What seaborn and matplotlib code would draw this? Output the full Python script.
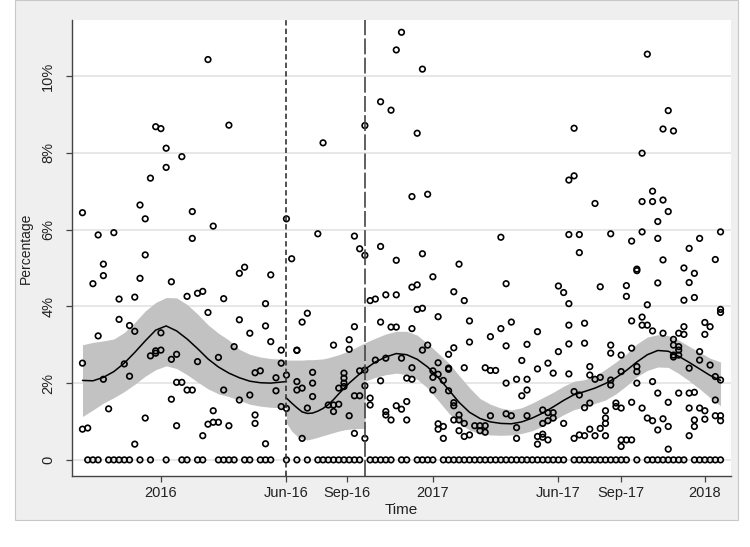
import matplotlib
matplotlib.use("Agg")
import matplotlib.pyplot as plt
import seaborn as sns
import pandas as pd
from matplotlib.patches import Rectangle

# ---------------- data (x in weeks since 2016w1, y in percent) ----------------
obs_weeks = [-15, -14, -13, -12, -11, -10, -9, -8, -7, -6, -5, -4, -3, -2, -1, 0,
             1, 2, 3, 4, 5, 6, 7, 8, 9, 10, 11, 12, 13, 14, 15, 16, 17, 18, 19, 20,
             21, 22, 23, 24, 25, 26, 27, 28, 29, 30, 31, 32, 33, 34, 35, 36, 37, 38,
             39, 40, 41, 42, 43, 44, 45, 46, 47, 48, 49, 50, 51, 52, 53, 54, 55, 56,
             57, 58, 59, 60, 61, 62, 63, 64, 65, 66, 67, 68, 69, 70, 72, 73, 74, 75,
             76, 77, 78, 79, 80, 81, 82, 83, 84, 85, 86, 87, 88, 89, 90, 91, 92, 93,
             94, 95, 96, 97, 98, 99, 100, 101, 102, 103, 104, 105, 106, 107]
obs_pct = [
    [6.44, 2.52, 0.80], [0.83], [4.59], [5.86, 3.23], [5.10, 4.80, 2.10], [1.33],
    [5.92], [4.19, 3.66], [2.50], [3.50, 2.18], [4.24, 3.35, 0.41], [6.64, 4.73],
    [6.28, 5.34, 1.09], [7.34, 2.71], [8.68, 2.78, 2.84], [8.63, 3.31, 2.86],
    [8.12, 7.62], [4.64, 2.62, 1.58], [2.75, 2.02, 0.89], [7.90, 2.02], [4.26, 1.82],
    [6.47, 5.77, 1.82], [4.34, 2.56], [4.39, 0.63], [10.43, 3.84, 0.93],
    [6.09, 1.28, 0.98], [2.67, 0.98], [4.20, 1.82], [8.72, 0.89], [2.95],
    [4.86, 3.65, 1.56], [5.02], [3.30, 1.69], [2.27, 1.17, 0.95], [2.32],
    [4.07, 3.49, 0.42], [4.82, 3.08], [2.14, 1.80], [2.86, 2.52, 1.39],
    [6.28, 2.21, 1.34], [5.24], [2.86, 2.85, 2.04, 1.82], [3.59, 1.87, 0.56],
    [3.82, 1.35], [2.28, 2.00, 1.65], [5.89], [8.26], [1.43], [2.99, 1.43, 1.26],
    [1.87, 1.45], [2.26, 2.13, 2.00, 1.91], [3.13, 2.88, 1.15],
    [5.83, 3.47, 1.67, 0.69], [5.50, 2.32, 1.67], [8.71, 5.33, 2.34, 1.93, 0.56],
    [4.15, 1.61, 1.43], [4.19, 2.60], [9.33, 5.56, 3.59, 2.06],
    [4.30, 2.65, 1.26, 1.17], [9.11, 3.46, 1.04], [10.68, 5.20, 4.30, 3.46, 1.41],
    [11.14, 2.65, 1.32], [2.13, 1.52, 1.04], [6.86, 4.50, 3.42, 2.40, 2.10],
    [8.51, 4.56, 3.92], [10.18, 5.37, 3.95, 2.86], [6.92, 2.99],
    [4.77, 2.32, 2.15, 1.82], [3.73, 2.53, 2.23, 0.94, 0.80], [2.07, 0.87, 0.56],
    [2.75, 2.39, 2.36, 1.80], [4.38, 2.92, 1.49, 1.41, 1.04],
    [5.10, 1.17, 1.04, 0.76], [4.15, 2.40, 0.95, 0.61], [3.62, 3.07, 0.65], [0.89],
    [0.89, 0.76], [2.40, 0.89, 0.72], [3.21, 2.33, 1.15], [2.33], [5.80, 3.42],
    [4.59, 2.97, 2.00, 1.20], [3.59, 1.15], [2.10, 0.84, 0.56], [2.59, 1.67],
    [3.01, 2.10, 1.82, 1.15], [3.34, 2.37, 0.61, 0.41], [1.30, 0.95, 0.67, 0.59],
    [2.52, 1.23, 1.02, 0.52], [2.26, 1.23, 1.09], [4.53, 2.82], [4.36, 0.95],
    [7.29, 5.87, 4.07, 3.51, 3.02, 2.24], [8.64, 7.40, 1.78, 0.56],
    [5.87, 5.40, 1.69, 0.65], [3.56, 3.04, 1.36, 0.63], [2.43, 2.21, 1.48, 0.80],
    [6.68, 2.10, 0.63], [4.51, 2.15, 0.82], [1.28, 1.09, 0.95, 0.63],
    [5.89, 2.99, 2.78, 2.08, 1.95], [1.48, 1.39], [2.73, 2.30, 1.35, 0.52, 0.35],
    [4.54, 4.26, 0.52], [5.70, 3.62, 2.91, 1.50, 0.52], [4.97, 4.93, 2.43, 2.30, 2.00],
    [7.99, 6.73, 5.94, 3.72, 3.51, 1.35], [10.57, 4.04, 3.51, 1.09],
    [7.00, 6.73, 3.36, 2.04, 1.02], [6.21, 5.77, 4.61, 1.74, 0.78],
    [8.62, 6.77, 5.21, 3.30, 1.07], [9.10, 6.47, 1.50, 0.87, 0.28],
    [8.57, 3.14, 2.99, 2.73, 2.68], [3.30, 2.95, 2.86, 2.73, 1.74],
    [5.00, 4.16, 3.47, 3.27], [5.51, 4.62, 2.39, 1.74, 1.35, 0.63],
    [4.86, 4.23, 1.76, 1.04, 0.87], [5.77, 2.82, 2.60, 1.35], [3.58, 3.27, 1.28, 1.06],
    [3.47, 2.47], [5.22, 2.17, 1.56, 1.15], [5.94, 3.92, 3.84, 2.08, 1.15, 1.02],
]
zero_weeks = [-14, -13, -12, -10, -9, -8, -7, -6, -4, -2, 1, 4, 5, 7, 8, 11, 12, 13,
              14, 16, 17, 19, 20, 21, 24, 26, 28, 30, 31, 32, 33, 34, 35, 36, 37, 38,
              40, 41, 42, 43, 44, 46, 47, 49, 50, 51, 52, 54, 55, 56, 57, 58, 59, 60,
              61, 62, 63, 64, 65, 66, 67, 68, 69, 70, 71, 72, 73, 74, 75, 76, 77, 79,
              80, 81, 82, 83, 84, 85, 86, 87, 88, 89, 91, 93, 94, 95, 96, 97, 98, 99,
              100, 102, 103, 104, 105, 106, 107]

# local polynomial fits with confidence bands, three periods
fit1_week = [-15, -13, -11, -9, -7, -5, -3, -1, 1, 3, 5, 7, 9, 11, 13, 15, 17, 19, 21, 24]
fit1_mid = [2.07, 2.06, 2.15, 2.30, 2.52, 2.80, 3.10, 3.38, 3.49, 3.36, 3.15, 2.90,
            2.63, 2.42, 2.26, 2.14, 2.05, 2.01, 2.00, 2.04]
fit1_hi = [3.00, 3.06, 3.10, 3.15, 3.32, 3.58, 3.88, 4.10, 4.23, 4.22, 4.05, 3.80,
           3.52, 3.30, 3.12, 2.88, 2.75, 2.68, 2.64, 2.62]
fit1_lo = [1.13, 1.30, 1.48, 1.62, 1.78, 1.97, 2.18, 2.35, 2.45, 2.38, 2.22, 2.03,
           1.85, 1.72, 1.65, 1.55, 1.45, 1.40, 1.37, 1.35]

fit2_week = [24, 25, 26, 27, 28, 29, 30, 31, 32, 33, 34, 35, 36, 37, 38, 39]
fit2_mid = [1.61, 1.48, 1.36, 1.25, 1.21, 1.22, 1.27, 1.34, 1.44, 1.57, 1.72, 1.86,
            2.00, 2.12, 2.24, 2.36]
fit2_hi = [2.60, 2.60, 2.60, 2.60, 2.61, 2.61, 2.62, 2.63, 2.66, 2.70, 2.74, 2.79,
           2.85, 2.91, 2.98, 3.05]
fit2_lo = [0.96, 0.75, 0.62, 0.54, 0.52, 0.55, 0.59, 0.63, 0.67, 0.71, 0.75, 0.78,
           0.80, 0.81, 0.82, 0.82]

fit3_week = [39, 41, 43, 45, 47, 49, 51, 53, 55, 57, 59, 61, 63, 65, 67, 69, 71, 73,
             75, 77, 79, 81, 83, 85, 87, 89, 91, 93, 95, 97, 99, 101, 103, 105, 107]
fit3_mid = [2.36, 2.55, 2.68, 2.77, 2.74, 2.62, 2.42, 2.15, 1.83, 1.50, 1.24, 1.08,
            0.99, 0.95, 0.94, 0.99, 1.09, 1.22, 1.38, 1.55, 1.70, 1.78, 1.87, 1.99,
            2.14, 2.33, 2.55, 2.74, 2.85, 2.83, 2.70, 2.54, 2.37, 2.20, 2.07]
fit3_hi = [3.05, 3.17, 3.28, 3.35, 3.35, 3.25, 3.03, 2.78, 2.53, 2.20, 1.88, 1.60,
           1.45, 1.35, 1.30, 1.36, 1.48, 1.62, 1.76, 1.92, 2.05, 2.09, 2.18, 2.36,
           2.55, 2.76, 3.02, 3.20, 3.26, 3.24, 3.12, 2.96, 2.80, 2.65, 2.55]
fit3_lo = [2.05, 2.15, 2.22, 2.26, 2.22, 2.10, 1.87, 1.55, 1.22, 0.95, 0.78, 0.68,
           0.65, 0.64, 0.65, 0.69, 0.76, 0.88, 1.02, 1.18, 1.31, 1.38, 1.47, 1.56,
           1.72, 1.93, 2.17, 2.33, 2.42, 2.41, 2.25, 2.06, 1.85, 1.62, 1.41]

event_weeks = [24, 39]
tick_weeks = [0, 24, 35.5, 52, 76, 88, 104]
tick_labels = ["2016", "Jun-16", "Sep-16", "2017", "Jun-17", "Sep-17", "2018"]
ytick_vals = [0, 2, 4, 6, 8, 10]
ytick_labels = ["0", "2%", "4%", "6%", "8%", "10%"]

# ---------------- build table ----------------
rows_w, rows_p = [], []
for w, vals in zip(obs_weeks, obs_pct):
    for v in vals:
        rows_w.append(w)
        rows_p.append(v)
for w in zero_weeks:
    rows_w.append(w)
    rows_p.append(0.0)
df = pd.DataFrame({"week": rows_w, "pct": rows_p})

# ---------------- figure ----------------
sns.set_style("white")
plt.rcParams["font.family"] = ["Liberation Sans", "DejaVu Sans"]

W, H = 750, 547
fig = plt.figure(figsize=(W / 100, H / 100), dpi=100)
fig.patch.set_facecolor("white")
fig.patches.append(Rectangle((15 / W, 1 - 520 / H), (738 - 15) / W, 520 / H,
                             transform=fig.transFigure, facecolor="#efefef",
                             edgecolor="#c8c8c8", lw=0.8, zorder=-10))
ax = fig.add_axes([72 / W, 1 - 476 / H, (731 - 72) / W, (476 - 20) / H])
ax.set_facecolor("white")

for wk, lo, hi in [(fit1_week, fit1_lo, fit1_hi), (fit2_week, fit2_lo, fit2_hi),
                   (fit3_week, fit3_lo, fit3_hi)]:
    ax.fill_between(wk, lo, hi, color="#c2c2c2", lw=0, zorder=1)

sns.scatterplot(data=df, x="week", y="pct", ax=ax, marker="o", s=16,
                linewidth=1.2, legend=False, zorder=2)
coll = ax.collections[-1]
coll.set_facecolor("none")
coll.set_edgecolor("black")
coll.set_sizes([16])
coll.set_linewidths([1.2])

for wk, mid in [(fit1_week, fit1_mid), (fit2_week, fit2_mid), (fit3_week, fit3_mid)]:
    sns.lineplot(x=wk, y=mid, ax=ax, color="black", lw=1.1, estimator=None,
                 sort=False, zorder=3)

ax.axvline(event_weeks[0], color="#333333", lw=1.2, ls=(0, (3.2, 1.9)), zorder=4)
ax.axvline(event_weeks[1], color="#444444", lw=1.2, ls=(0, (9.5, 2.0)), zorder=4)

ax.set_xlim(-17, 109)
ax.set_ylim(-0.42, 11.46)
ax.set_xticks(tick_weeks)
ax.set_xticklabels(tick_labels)
ax.set_yticks(ytick_vals)
ax.set_yticklabels(ytick_labels, rotation=90, va="center")
ax.yaxis.grid(True, color="#e3e3e3", lw=1.2)
ax.xaxis.grid(False)
ax.set_axisbelow(True)

for side in ["top", "right"]:
    ax.spines[side].set_visible(False)
for side in ["left", "bottom"]:
    ax.spines[side].set_color("#444444")
    ax.spines[side].set_linewidth(1.0)
ax.tick_params(axis="both", direction="out", length=4, width=0.9, color="#444444",
               labelsize=10.5, labelcolor="#222222", left=True, bottom=True)
ax.tick_params(axis="y", pad=8)
ax.set_xlabel("Time", fontsize=11, color="#222222", labelpad=2)
ax.set_ylabel("Percentage", fontsize=10, color="#222222", labelpad=6)

fig.savefig("out.png", dpi=100, facecolor=fig.get_facecolor())
